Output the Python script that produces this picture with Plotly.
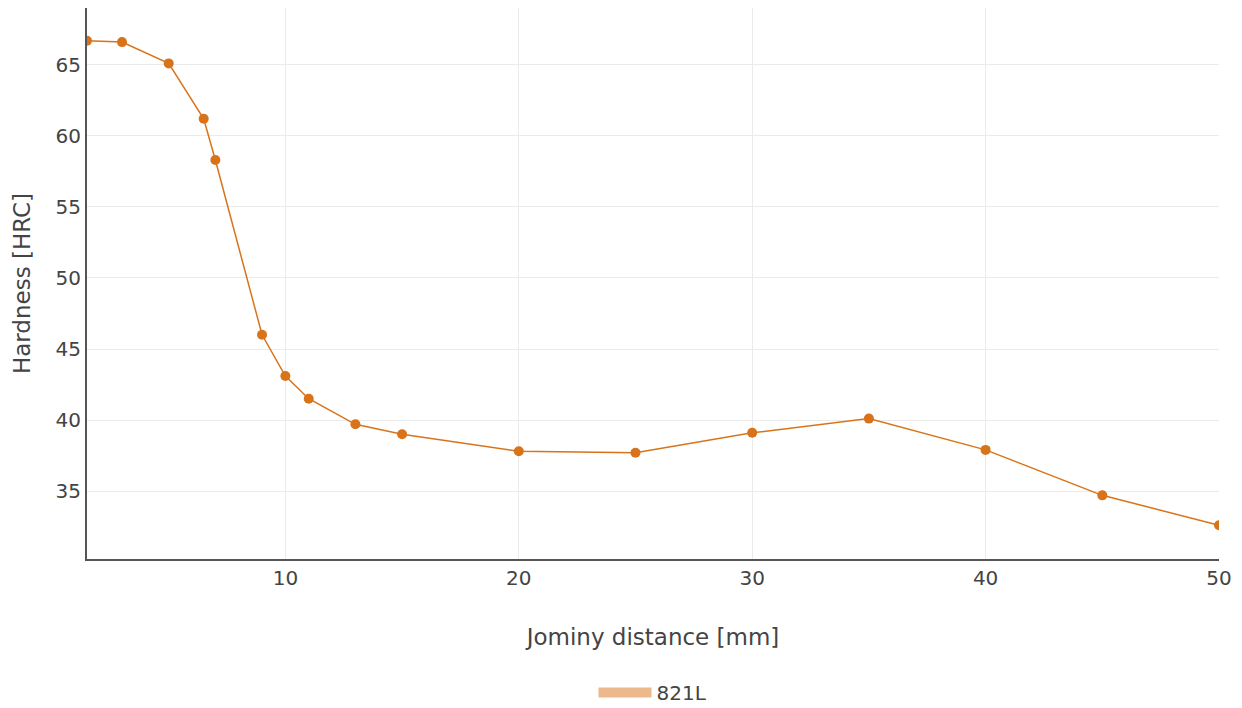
import plotly.graph_objects as go

distance_mm = [1.5, 3, 5, 6.5, 7, 9, 10, 11, 13, 15, 20, 25, 30, 35, 40, 45, 50]
hardness_hrc = [66.7, 66.6, 65.1, 61.2, 58.3, 46.0, 43.1, 41.5, 39.7, 39.0, 37.8, 37.7, 39.1, 40.1, 37.9, 34.7, 32.6]
series_name = "821L"
x_title = "Jominy distance [mm]"
y_title = "Hardness [HRC]"
x_ticks = [10, 20, 30, 40, 50]
y_ticks = [35, 40, 45, 50, 55, 60, 65]

color = "#d9731a"
font_family = "DejaVu Sans, Verdana, sans-serif"

fig = go.Figure()
fig.add_trace(go.Scatter(
    x=distance_mm, y=hardness_hrc, mode="lines+markers",
    line=dict(color=color, width=1.5),
    marker=dict(color=color, size=10),
    showlegend=False, name=series_name,
))
fig.add_trace(go.Scatter(
    x=[None], y=[None], mode="lines",
    line=dict(color=color, width=10),
    opacity=0.5, name=series_name, showlegend=True,
))

fig.update_layout(
    width=1242, height=708,
    paper_bgcolor="white", plot_bgcolor="white",
    font=dict(family=font_family, size=20, color="#444"),
    margin=dict(l=79, r=31, t=0, b=157, autoexpand=False),
    legend=dict(orientation="h", x=0.5, xanchor="center", y=-0.207, yanchor="top",
                itemwidth=53, font=dict(size=20)),
    xaxis=dict(
        title=dict(text=x_title, font=dict(size=23), standoff=40),
        range=[1.5, 50], tickvals=x_ticks, automargin=False,
        showgrid=True, gridcolor="#ebebeb", gridwidth=1,
        zeroline=False, showline=True, linecolor="#555", linewidth=2,
        ticks="", ticklen=0,
    ),
    yaxis=dict(
        title=dict(text=y_title, font=dict(size=23), standoff=18),
        range=[30.22, 69.0], tickvals=y_ticks, automargin=False,
        showgrid=True, gridcolor="#ebebeb", gridwidth=1,
        zeroline=False, showline=True, linecolor="#555", linewidth=2,
        ticks="",
    ),
)

fig.write_html("out.html")
